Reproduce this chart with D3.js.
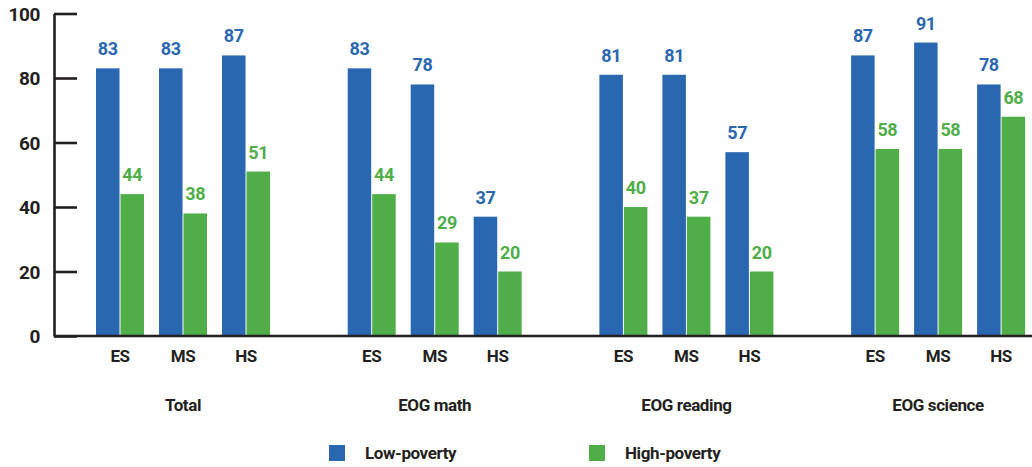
<!DOCTYPE html>
<html lang="en">
<head>
<meta charset="UTF-8">
<title>Low vs high poverty</title>
<script src="https://d3js.org/d3.v7.min.js"></script>
<style>
  body { margin: 0; background: #fff; }
  svg text { font-family: Roboto, "Liberation Sans", sans-serif; font-weight: bold; letter-spacing: -0.4px; }
</style>
</head>
<body>
<svg width="1032" height="467"></svg>
<script>
// data
const groups = ["Total", "EOG math", "EOG reading", "EOG science"];
const levels = ["ES", "MS", "HS"];
const seriesNames = ["Low-poverty", "High-poverty"];
const lowPoverty = [
  [83, 83, 87],
  [83, 78, 37],
  [81, 81, 57],
  [87, 91, 78]
];
const highPoverty = [
  [44, 38, 51],
  [44, 29, 20],
  [40, 37, 20],
  [58, 58, 68]
];
const yTicks = [0, 20, 40, 60, 80, 100];

const colors = ["#2a67b1", "#4fae48"];
const ink = "#231f20";

const svg = d3.select("svg");

const axisX = 54;
const y = d3.scaleLinear().domain([0, 100]).range([336, 13.5]);

const x0 = d3.scaleBand().domain(groups).range([96, 96 + 4 * 251.7]);
const x1 = d3.scaleBand().domain(levels).range([0, 189]);
const x2 = d3.scaleBand().domain(seriesNames).range([0, 48]).paddingInner(0.04);

// flatten rows
const rows = [];
groups.forEach((g, gi) => {
  levels.forEach((l, li) => {
    rows.push({ group: g, level: l, series: seriesNames[0], value: lowPoverty[gi][li], c: 0 });
    rows.push({ group: g, level: l, series: seriesNames[1], value: highPoverty[gi][li], c: 1 });
  });
});

const barX = d => x0(d.group) + x1(d.level) + x2(d.series);

svg.append("g").selectAll("rect")
  .data(rows)
  .join("rect")
  .attr("x", barX)
  .attr("y", d => y(d.value))
  .attr("width", x2.bandwidth())
  .attr("height", d => y(0) - y(d.value))
  .attr("fill", d => colors[d.c]);

svg.append("g").selectAll("text")
  .data(rows)
  .join("text")
  .attr("x", d => barX(d) + x2.bandwidth() / 2)
  .attr("y", d => y(d.value) - 13)
  .attr("text-anchor", "middle")
  .attr("font-size", 18)
  .attr("fill", d => colors[d.c])
  .text(d => d.value);

// y axis
const yAxis = svg.append("g")
  .attr("transform", `translate(${axisX},0)`)
  .call(d3.axisLeft(y).tickValues(yTicks).tickSizeInner(-23).tickSizeOuter(0).tickPadding(14));
yAxis.select(".domain").attr("stroke", ink).attr("stroke-width", 2.6);
yAxis.selectAll(".tick line").attr("stroke", ink).attr("stroke-width", 2.6);
yAxis.selectAll(".tick text").attr("fill", ink).attr("font-size", 19)
  .attr("font-family", null).attr("dy", "0.36em");

// baseline
svg.append("line")
  .attr("x1", axisX).attr("x2", 1032)
  .attr("y1", y(0)).attr("y2", y(0))
  .attr("stroke", ink).attr("stroke-width", 2.6);

// level labels
const levelRows = [];
groups.forEach(g => levels.forEach(l => levelRows.push({ group: g, level: l })));
svg.append("g").selectAll("text")
  .data(levelRows)
  .join("text")
  .attr("x", d => x0(d.group) + x1(d.level) + 24)
  .attr("y", 362)
  .attr("text-anchor", "middle")
  .attr("font-size", 17)
  .attr("fill", ink)
  .text(d => d.level);

// group labels
svg.append("g").selectAll("text")
  .data(groups)
  .join("text")
  .attr("x", d => x0(d) + 87)
  .attr("y", 411)
  .attr("text-anchor", "middle")
  .attr("font-size", 17)
  .attr("fill", ink)
  .text(d => d);

// legend
const legendX = [329, 589];
const legend = svg.append("g").selectAll("g")
  .data(seriesNames)
  .join("g")
  .attr("transform", (d, i) => `translate(${legendX[i]},445)`);
legend.append("rect")
  .attr("width", 16).attr("height", 16)
  .attr("fill", (d, i) => colors[i]);
legend.append("text")
  .attr("x", 36).attr("y", 14)
  .attr("font-size", 17)
  .attr("fill", ink)
  .text(d => d);
</script>
</body>
</html>
